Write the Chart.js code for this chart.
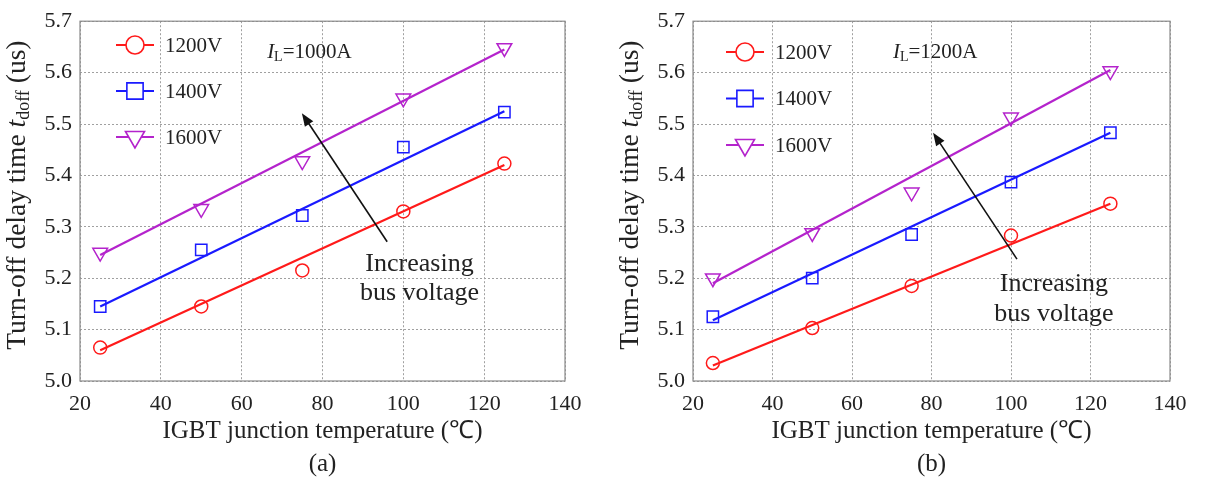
<!DOCTYPE html>
<html><head><meta charset="utf-8">
<script src="https://cdn.jsdelivr.net/npm/chart.js@4/dist/chart.umd.min.js"></script>
<style>
html,body{margin:0;padding:0;background:#fff;width:1205px;height:481px;overflow:hidden}
#wa{position:absolute;left:0;top:0;width:600px;height:481px}
#wb{position:absolute;left:600px;top:0;width:605px;height:481px}
</style></head><body>
<div id="wa"><canvas id="ca" width="600" height="481"></canvas></div>
<div id="wb"><canvas id="cb" width="605" height="481"></canvas></div>
<script>
// ---------- data ----------
const temps = [25, 50, 75, 100, 125];
const fitTemps = [25, 125];
const seriesNames = ['1200V', '1400V', '1600V'];
const xTicks = [20, 40, 60, 80, 100, 120, 140];
const yTicks = [5.0, 5.1, 5.2, 5.3, 5.4, 5.5, 5.6, 5.7];

// (a) IL = 1000A
const a1200 = [5.065, 5.145, 5.215, 5.330, 5.423];
const a1400 = [5.145, 5.255, 5.322, 5.455, 5.523];
const a1600 = [5.250, 5.335, 5.428, 5.550, 5.648];
const aFit1200 = [5.060, 5.420];
const aFit1400 = [5.145, 5.525];
const aFit1600 = [5.245, 5.645];

// (b) IL = 1200A
const b1200 = [5.035, 5.103, 5.185, 5.283, 5.345];
const b1400 = [5.125, 5.200, 5.285, 5.387, 5.483];
const b1600 = [5.200, 5.288, 5.367, 5.513, 5.603];
const bFit1200 = [5.030, 5.345];
const bFit1400 = [5.118, 5.483];
const bFit1600 = [5.190, 5.605];

const xTitle = 'IGBT junction temperature (\u2103)';
const yTitleParts = ['Turn-off delay time ', 't', 'doff', ' (us)'];
const arrowText = ['Increasing', 'bus voltage'];

// ---------- styles ----------
const colors = ['#ff1a1a', '#1a1aff', '#b423cc'];
const styles = ['circle', 'rect', 'triangle'];
const rotations = [0, 0, 180];
const radii = [6.5, 8, 8.5];
const legRadii = [9, 11.5, 11];
const SERIF = '"Liberation Serif", "Times New Roman", serif';
Chart.defaults.font.family = SERIF;
Chart.defaults.color = '#222';

function drawMarker(ctx, style, x, y, r, color) {
  ctx.save();
  ctx.strokeStyle = color; ctx.fillStyle = '#fff'; ctx.lineWidth = 1.6; ctx.setLineDash([]);
  ctx.beginPath();
  if (style === 'circle') {
    ctx.arc(x, y, r, 0, Math.PI * 2);
  } else if (style === 'rect') {
    const s = r * Math.SQRT1_2;
    ctx.rect(x - s, y - s, 2 * s, 2 * s);
  } else {
    // downward triangle
    const a1 = Math.PI / 2, a2 = a1 + 2 * Math.PI / 3, a3 = a2 + 2 * Math.PI / 3;
    ctx.moveTo(x + Math.cos(a1) * r, y + Math.sin(a1) * r);
    ctx.lineTo(x + Math.cos(a2) * r, y + Math.sin(a2) * r);
    ctx.lineTo(x + Math.cos(a3) * r, y + Math.sin(a3) * r);
    ctx.closePath();
  }
  ctx.fill(); ctx.stroke();
  ctx.restore();
}

function drawRich(ctx, parts, cx, cy, rot, align) {
  ctx.save();
  ctx.translate(cx, cy); ctx.rotate(rot);
  let total = 0;
  parts.forEach(p => { ctx.font = p.font; p.w = ctx.measureText(p.t).width; total += p.w; });
  let x = align === 'left' ? 0 : -total / 2;
  ctx.textBaseline = 'middle'; ctx.textAlign = 'left'; ctx.fillStyle = '#222';
  parts.forEach(p => { ctx.font = p.font; ctx.fillText(p.t, x, p.dy || 0); x += p.w; });
  ctx.restore();
}

function decorPlugin(o) {
  return {
    id: 'decor',
    afterDraw(chart) {
      const { ctx, chartArea: a, scales: { x, y } } = chart;
      ctx.save();
      // plot frame
      ctx.strokeStyle = '#8a8a8a'; ctx.lineWidth = 1.2; ctx.setLineDash([]);
      ctx.strokeRect(a.left, a.top, a.right - a.left, a.bottom - a.top);

      // legend
      seriesNames.forEach((name, i) => {
        const mx = a.left + o.leg.dx, my = o.leg.y + i * o.leg.gap;
        ctx.strokeStyle = colors[i]; ctx.lineWidth = 2;
        ctx.beginPath(); ctx.moveTo(mx - 19, my); ctx.lineTo(mx + 19, my); ctx.stroke();
        drawMarker(ctx, styles[i], mx, my, legRadii[i], colors[i]);
        ctx.fillStyle = '#222'; ctx.font = '21px ' + SERIF;
        ctx.textAlign = 'left'; ctx.textBaseline = 'middle';
        ctx.fillText(name, mx + 30, my + 1);
      });

      // IL label
      drawRich(ctx, [
        { t: 'I', font: 'italic 21px ' + SERIF },
        { t: 'L', font: '14px ' + SERIF, dy: 5 },
        { t: '=' + o.il, font: '21px ' + SERIF }
      ], x.getPixelForValue(o.ilPos[0]), y.getPixelForValue(o.ilPos[1]), 0, 'left');

      // arrow
      const tx = x.getPixelForValue(o.arrow[0]), ty = y.getPixelForValue(o.arrow[1]);
      const hx = x.getPixelForValue(o.arrow[2]), hy = y.getPixelForValue(o.arrow[3]);
      const ang = Math.atan2(hy - ty, hx - tx);
      ctx.strokeStyle = '#111'; ctx.fillStyle = '#111'; ctx.lineWidth = 1.6;
      ctx.beginPath(); ctx.moveTo(tx, ty);
      ctx.lineTo(hx - Math.cos(ang) * 10, hy - Math.sin(ang) * 10); ctx.stroke();
      ctx.beginPath();
      ctx.moveTo(hx, hy);
      ctx.lineTo(hx - Math.cos(ang) * 13 + Math.sin(ang) * 5, hy - Math.sin(ang) * 13 - Math.cos(ang) * 5);
      ctx.lineTo(hx - Math.cos(ang) * 13 - Math.sin(ang) * 5, hy - Math.sin(ang) * 13 + Math.cos(ang) * 5);
      ctx.closePath(); ctx.fill();

      // arrow text
      ctx.fillStyle = '#222'; ctx.font = '26px ' + SERIF;
      ctx.textAlign = 'center'; ctx.textBaseline = 'middle';
      arrowText.forEach((t, i) => {
        ctx.fillText(t, x.getPixelForValue(o.txt[0]), y.getPixelForValue(o.txt[1 + i]));
      });

      // y-axis title
      drawRich(ctx, [
        { t: yTitleParts[0], font: '27.5px ' + SERIF },
        { t: yTitleParts[1], font: 'italic 27.5px ' + SERIF },
        { t: yTitleParts[2], font: '18px ' + SERIF, dy: 6 },
        { t: yTitleParts[3], font: '27.5px ' + SERIF }
      ], o.yTitleX, (a.top + a.bottom) / 2 - 6, -Math.PI / 2, 'center');
      ctx.restore();
    }
  };
}

function build(id, vals, fits, o) {
  const datasets = [];
  vals.forEach((v, i) => {
    datasets.push({
      label: seriesNames[i] + ' fit',
      data: fitTemps.map((t, k) => ({ x: t, y: fits[i][k] })),
      showLine: true, borderColor: colors[i], borderWidth: 2.2,
      pointRadius: 0, fill: false, order: 2
    });
  });
  vals.forEach((v, i) => {
    datasets.push({
      label: seriesNames[i],
      data: temps.map((t, k) => ({ x: t, y: v[k] })),
      showLine: false, pointStyle: styles[i], rotation: rotations[i],
      pointRadius: radii[i], pointBorderWidth: 1.5,
      pointBorderColor: colors[i], pointBackgroundColor: 'rgba(255,255,255,0)', order: 1
    });
  });
  return new Chart(document.getElementById(id), {
    type: 'scatter',
    data: { datasets },
    options: {
      responsive: false, animation: false, devicePixelRatio: 1,
      layout: { padding: { left: 0, right: o.padRight, top: 17, bottom: 0 } },
      plugins: { legend: { display: false }, tooltip: { enabled: false } },
      scales: {
        x: {
          type: 'linear', min: 20, max: 140,
          afterBuildTicks: s => { s.ticks = xTicks.map(v => ({ value: v })); },
          afterFit: s => { s.height = 100; },
          grid: { color: '#a0a0a0', lineWidth: 1, drawTicks: false },
          border: { display: false, dash: [2, 2] },
          ticks: { font: { size: 22 }, color: '#222', padding: 10, maxRotation: 0 },
          title: { display: true, text: [xTitle, o.tag], font: { size: 25, lineHeight: 1.32 }, color: '#222', padding: { top: 0, bottom: 0 } }
        },
        y: {
          type: 'linear', min: 5.0, max: 5.7,
          afterBuildTicks: s => { s.ticks = yTicks.map(v => ({ value: v })); },
          afterFit: s => { s.width = o.yWidth; },
          grid: { color: '#a0a0a0', lineWidth: 1, drawTicks: false },
          border: { display: false, dash: [2, 2] },
          ticks: { font: { size: 22 }, color: '#222', padding: 8, callback: v => Number(v).toFixed(1) }
        }
      }
    },
    plugins: [decorPlugin(o)]
  });
}

build('ca', [a1200, a1400, a1600], [aFit1200, aFit1400, aFit1600], {
  tag: '(a)', il: '1000A', yWidth: 80, padRight: 35, yTitleX: 18,
  leg: { dx: 55, y: 45, gap: 46 },
  ilPos: [66.3, 5.64],
  arrow: [96, 5.271, 74.9, 5.521],
  txt: [104, 5.227, 5.170]
});
build('cb', [b1200, b1400, b1600], [bFit1200, bFit1400, bFit1600], {
  tag: '(b)', il: '1200A', yWidth: 93, padRight: 35, yTitleX: 31,
  leg: { dx: 52, y: 52, gap: 46.5 },
  ilPos: [70.3, 5.64],
  arrow: [101.5, 5.237, 80.4, 5.483],
  txt: [110.8, 5.188, 5.130]
});
</script>
</body></html>
